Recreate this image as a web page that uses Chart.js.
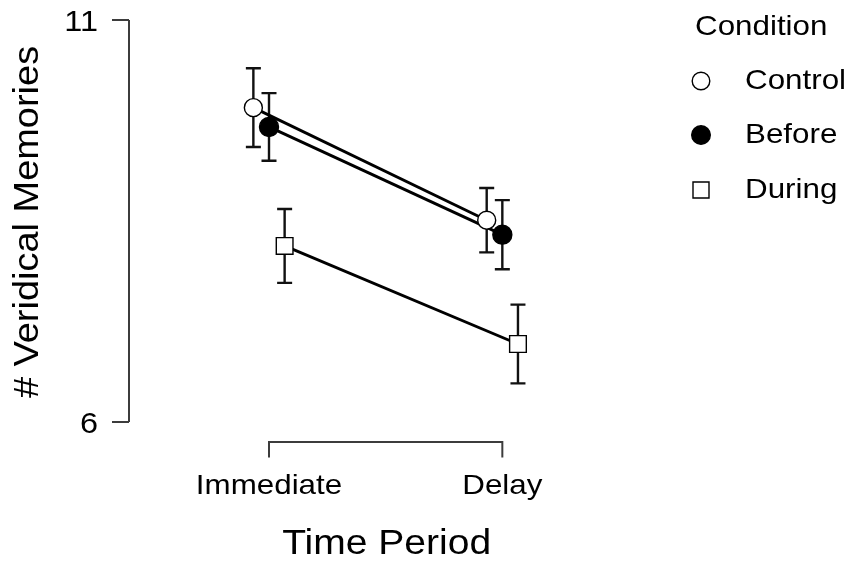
<!DOCTYPE html>
<html><head><meta charset="utf-8">
<script src="https://cdn.jsdelivr.net/npm/chart.js@4.4.1/dist/chart.umd.min.js"></script>
<style>html,body{margin:0;padding:0;background:#fff;} canvas{display:block;}</style>
</head><body>
<canvas id="c" width="848" height="561"></canvas>
<script>
// ---- data ----
const categories = ['Immediate', 'Delay'];
const conditions = ['Control', 'Before', 'During'];
const controlMeans = [9.91, 8.51];
const controlErrors = [0.49, 0.40];
const beforeMeans = [9.67, 8.33];
const beforeErrors = [0.42, 0.43];
const duringMeans = [8.19, 6.97];
const duringErrors = [0.46, 0.49];
const yTicks = [6, 11];
const xTitle = 'Time Period';
const yTitle = '# Veridical Memories';
const legendTitle = 'Condition';

// ---- styling ----
const DODGE = [-0.067, 0, 0.067];
const FONT = '"Liberation Sans", Arial, sans-serif';
const STRETCH = 1.1;
const INK = '#000';
const AXIS = '#3c3c3c';

const series = [
  { means: controlMeans, errors: controlErrors, style: 'circle', fill: '#ffffff', radius: 9 },
  { means: beforeMeans, errors: beforeErrors, style: 'circle', fill: '#000000', radius: 9.5 },
  { means: duringMeans, errors: duringErrors, style: 'rect', fill: '#ffffff', radius: 11.8 }
];

const datasets = series.map((s, k) => ({
  label: conditions[k],
  data: categories.map((c, i) => ({ x: i + DODGE[k], y: s.means[i] })),
  errors: s.errors,
  showLine: true,
  borderColor: '#000',
  borderWidth: 2.9,
  pointStyle: s.style,
  pointRadius: s.radius,
  pointBackgroundColor: s.fill,
  pointBorderColor: '#000',
  pointBorderWidth: 1.4,
  fill: false,
  tension: 0
}));

function txt(ctx, s, x, y, size, align, rot) {
  ctx.save();
  ctx.translate(x, y);
  if (rot) ctx.rotate(rot);
  ctx.scale(STRETCH, 1);
  ctx.font = size + 'px ' + FONT;
  ctx.textAlign = align;
  ctx.textBaseline = 'alphabetic';
  ctx.fillStyle = INK;
  ctx.fillText(s, 0, 0);
  ctx.restore();
}

function marker(ctx, style, fill, r, x, y) {
  ctx.save();
  ctx.fillStyle = fill;
  ctx.strokeStyle = '#000';
  ctx.lineWidth = 1.4;
  ctx.beginPath();
  if (style === 'circle') {
    ctx.arc(x, y, r, 0, Math.PI * 2);
  } else {
    ctx.rect(x - r, y - r, 2 * r, 2 * r);
  }
  ctx.fill();
  ctx.stroke();
  ctx.restore();
}

const decor = {
  id: 'decor',
  beforeDatasetsDraw(chart) {
    const ctx = chart.ctx;
    const xs = chart.scales.x, ys = chart.scales.y;
    const ca = chart.chartArea;
    // error bars
    ctx.save();
    ctx.strokeStyle = '#111';
    ctx.lineWidth = 2.4;
    chart.data.datasets.forEach((ds, k) => {
      ds.data.forEach((p, i) => {
        const px = xs.getPixelForValue(p.x);
        const yt = ys.getPixelForValue(p.y + ds.errors[i]);
        const yb = ys.getPixelForValue(p.y - ds.errors[i]);
        ctx.beginPath();
        ctx.moveTo(px, yt); ctx.lineTo(px, yb);
        ctx.moveTo(px - 7.5, yt); ctx.lineTo(px + 7.5, yt);
        ctx.moveTo(px - 7.5, yb); ctx.lineTo(px + 7.5, yb);
        ctx.stroke();
      });
    });
    ctx.restore();

    // y axis
    ctx.save();
    ctx.strokeStyle = AXIS;
    ctx.lineWidth = 2;
    const yTop = ys.getPixelForValue(yTicks[yTicks.length - 1]);
    const yBot = ys.getPixelForValue(yTicks[0]);
    ctx.beginPath();
    ctx.moveTo(ca.left, yTop); ctx.lineTo(ca.left, yBot);
    yTicks.forEach(t => {
      const py = ys.getPixelForValue(t);
      ctx.moveTo(ca.left - 17, py); ctx.lineTo(ca.left, py);
    });
    // x axis
    const axY = ca.bottom + 20;
    const x0 = xs.getPixelForValue(0), x1 = xs.getPixelForValue(categories.length - 1);
    ctx.moveTo(x0, axY + 15.5); ctx.lineTo(x0, axY); ctx.lineTo(x1, axY); ctx.lineTo(x1, axY + 15.5);
    ctx.stroke();
    ctx.restore();

    yTicks.forEach(t => {
      txt(ctx, String(t), ca.left - 31, ys.getPixelForValue(t) + 10.5, 29.5, 'right');
    });
    categories.forEach((c, i) => {
      txt(ctx, c, xs.getPixelForValue(i), ca.bottom + 72, 28.5, 'center');
    });
    txt(ctx, xTitle, (x0 + x1) / 2 + 1, ca.bottom + 132, 35.5, 'center');
    txt(ctx, yTitle, 38, (yTop + yBot) / 2 + 1, 34.5, 'center', -Math.PI / 2);

    // legend
    txt(ctx, legendTitle, 695, 35, 28.5, 'left');
    const ly = [81, 135, 190];
    series.forEach((s, k) => {
      const r = s.style === 'rect' ? 8 : (k === 1 ? 9.3 : 8.8);
      marker(ctx, s.style, s.fill, r, 701, ly[k]);
      txt(ctx, conditions[k], 745, ly[k] + 8, 28.5, 'left');
    });
  }
};

new Chart(document.getElementById('c'), {
  type: 'line',
  data: { datasets },
  options: {
    responsive: false,
    animation: false,
    layout: { padding: { left: 129, top: 20, right: 229, bottom: 139 } },
    scales: {
      x: { type: 'linear', min: -0.6, max: 1.5, display: false },
      y: { type: 'linear', min: 6, max: 11, display: false }
    },
    plugins: { legend: { display: false }, tooltip: { enabled: false } }
  },
  plugins: [decor]
});
</script>
</body></html>
